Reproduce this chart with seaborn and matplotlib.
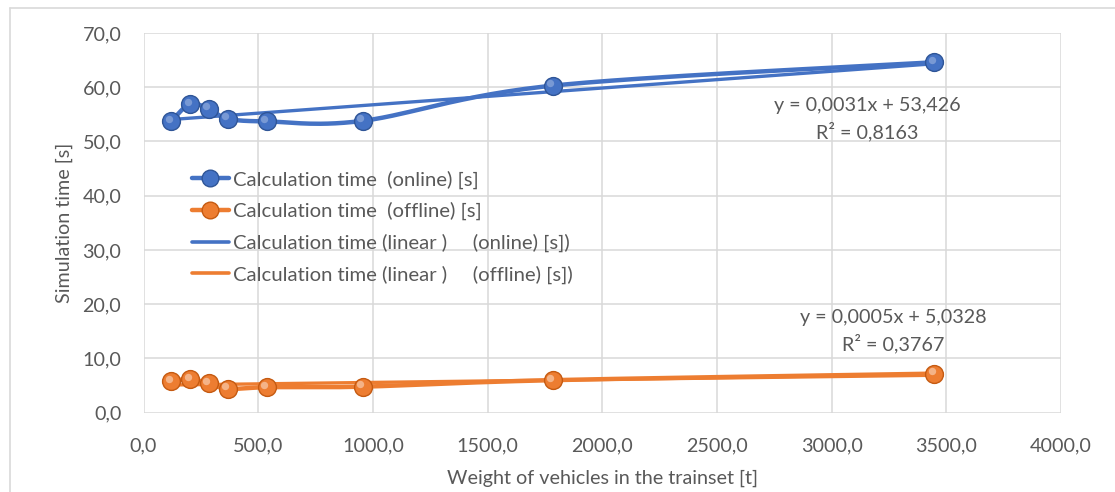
import numpy as np
import matplotlib
matplotlib.use("Agg")
import matplotlib.pyplot as plt
import matplotlib.ticker as mticker
from matplotlib.lines import Line2D
from matplotlib.legend_handler import HandlerLine2D
from matplotlib.transforms import offset_copy
import seaborn as sns

# data
weight_t = [120, 203, 285, 368, 538, 955, 1785, 3447]
time_online = [53.7, 56.9, 56.0, 54.2, 53.7, 53.8, 60.3, 64.6]
time_offline = [5.8, 6.2, 5.4, 4.4, 4.7, 4.8, 6.0, 7.2]

labels = [
    "Calculation time  (online) [s]",
    "Calculation time  (offline) [s]",
    "Calculation time (linear )     (online) [s])",
    "Calculation time (linear )     (offline) [s])",
]
eq_online = "y = 0,0031x + 53,426\nR² = 0,8163"
eq_offline = "y = 0,0005x + 5,0328\nR² = 0,3767"

BLUE = "#4472C4"
BLUE_DK = "#2F5597"
BLUE_LT = "#8FAADC"
ORANGE = "#ED7D31"
ORANGE_DK = "#C55A11"
ORANGE_LT = "#F8CBAD"
GRID = "#D9D9D9"
TEXT = "#595959"
FS = 14.2

sns.set_style("whitegrid")
plt.rcParams["font.family"] = ["Lato", "DejaVu Sans"]


def smooth(xs, ys, n=30):
    # catmull-rom curve through the points, like excel's "smoothed line"
    p = np.column_stack([xs, ys]).astype(float)
    p = np.vstack([p[0], p, p[-1]])
    out = []
    t = np.linspace(0, 1, n)[:, None]
    for i in range(1, len(p) - 2):
        p0, p1, p2, p3 = p[i - 1], p[i], p[i + 1], p[i + 2]
        seg = 0.5 * ((2 * p1) + (-p0 + p2) * t + (2 * p0 - 5 * p1 + 4 * p2 - p3) * t ** 2
                     + (-p0 + 3 * p1 - 3 * p2 + p3) * t ** 3)
        out.append(seg)
    c = np.vstack(out)
    return c[:, 0], c[:, 1]


class MarkerAtEnd(HandlerLine2D):
    # excel puts the legend marker at the right end of the line sample
    def get_xdata(self, legend, xdescent, ydescent, width, height, fontsize):
        xd, _ = super().get_xdata(legend, xdescent, ydescent, width, height, fontsize)
        return xd, np.array([width - xdescent - 7])


fig = plt.figure(figsize=(11.15, 4.92), dpi=100)
fig.add_artist(Line2D([10 / 1115, 10 / 1115], [0, 1 - 8 / 492], transform=fig.transFigure,
                      color=GRID, lw=1.2))
fig.add_artist(Line2D([10 / 1115, 1], [1 - 8 / 492, 1 - 8 / 492], transform=fig.transFigure,
                      color=GRID, lw=1.2))
ax = fig.add_axes([143.5 / 1115, 1 - 412.7 / 492, 917.5 / 1115, 379.7 / 492])

handles = []
hl_tr = offset_copy(ax.transData, fig=fig, x=-2.5, y=2.5, units="dots")
for ys, col, dk, lt, lab in [(time_online, BLUE, BLUE_DK, BLUE_LT, labels[0]),
                             (time_offline, ORANGE, ORANGE_DK, ORANGE_LT, labels[1])]:
    sx, sy = smooth(weight_t, ys)
    ax.plot(sx, sy, color=col, lw=3.2, solid_capstyle="round", zorder=3)
    sns.scatterplot(x=weight_t, y=ys, ax=ax, s=165, color=col, edgecolor=dk,
                    linewidth=1.0, zorder=5, legend=False)
    ax.scatter(weight_t, ys, s=28, color=lt, alpha=0.7, linewidth=0, zorder=6,
               transform=hl_tr)
    h, = ax.plot([], [], color=col, lw=3.2, marker="o", ms=12, mec=dk, label=lab)
    handles.append(h)

for ys, col, lab in [(time_online, BLUE, labels[2]), (time_offline, ORANGE, labels[3])]:
    sns.regplot(x=weight_t, y=ys, ax=ax, scatter=False, ci=None, truncate=True,
                line_kws={"color": col, "lw": 2.4, "zorder": 4})
    h, = ax.plot([], [], color=col, lw=2.6, label=lab)
    handles.append(h)

ax.set_xlim(0, 4000)
ax.set_ylim(0, 70)
ax.xaxis.set_major_locator(mticker.MultipleLocator(500))
ax.yaxis.set_major_locator(mticker.MultipleLocator(10))
fmt = mticker.FuncFormatter(lambda v, _: f"{v:.1f}".replace(".", ","))
ax.xaxis.set_major_formatter(fmt)
ax.yaxis.set_major_formatter(fmt)
ax.grid(True, color=GRID, lw=1.1)
for s in ax.spines.values():
    s.set_visible(False)
ax.tick_params(axis="both", colors=TEXT, labelsize=FS, length=0)
ax.tick_params(axis="y", pad=16)
ax.tick_params(axis="x", pad=18)

ax.set_xlabel("Weight of vehicles in the trainset [t]", fontsize=FS, color=TEXT, labelpad=11)
ax.set_ylabel("Simulation time [s]", fontsize=FS, color=TEXT, labelpad=7)

ax.text(3154, 54.15, eq_online, ha="center", va="center", fontsize=FS, color=TEXT,
        linespacing=1.5)
ax.text(3267, 15.0, eq_offline, ha="center", va="center", fontsize=FS, color=TEXT,
        linespacing=1.5)

ax.legend(handles=handles, loc="upper left", bbox_to_anchor=(0.0438, 0.66), frameon=False,
          fontsize=14.6, labelcolor=TEXT, handlelength=1.84, handletextpad=0.17,
          labelspacing=0.66, borderaxespad=0, numpoints=1,
          handler_map={Line2D: MarkerAtEnd(numpoints=1)})

fig.savefig("out.png", dpi=100)
